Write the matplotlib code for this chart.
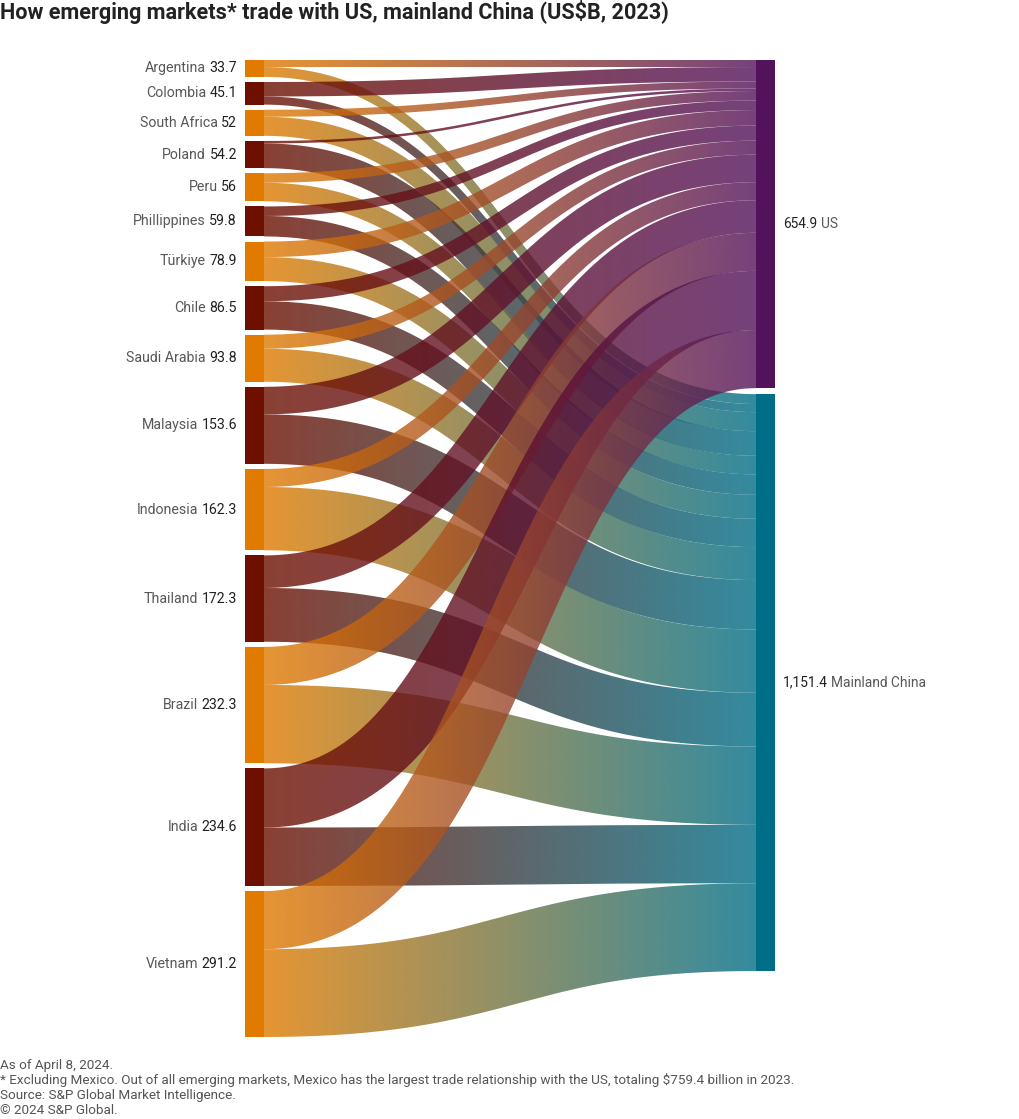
import numpy as np
import matplotlib.pyplot as plt
from matplotlib.path import Path
from matplotlib.patches import PathPatch, Rectangle
from matplotlib.colors import to_rgb

# data (US$B, 2023)
countries = ["Argentina", "Colombia", "South Africa", "Poland", "Peru", "Phillippines",
             "Türkiye", "Chile", "Saudi Arabia", "Malaysia", "Indonesia", "Thailand",
             "Brazil", "India", "Vietnam"]
totals = [33.7, 45.1, 52, 54.2, 56, 59.8, 78.9, 86.5, 93.8, 153.6, 162.3, 172.3, 232.3, 234.6, 291.2]
to_us = [14, 28.9, 14, 5, 19, 19, 31, 30, 28, 55, 36, 65, 76, 118, 116]
to_china = [19.7, 16.2, 38, 49.2, 37, 40.8, 47.9, 56.5, 65.8, 98.6, 126.3, 107.3, 156.3, 116.6, 175.2]
targets = ["US", "Mainland China"]
target_totals = ["654.9", "1,151.4"]

orange = "#E07B00"
darkred = "#6D1000"
us_col = "#53135A"
cn_col = "#006E87"
name_col = "#585858"
num_col = "#222222"
FONT = "Roboto"

fig = plt.figure(figsize=(10.2, 11.19), dpi=100)
ax = fig.add_axes([0, 0, 1, 1])
ax.set_xlim(0, 1020)
ax.set_ylim(1119, 0)
ax.axis("off")

# layout in pixel units
top, bottom, pad = 60, 1037, 5.14
lx0, lx1 = 245, 264
rx0, rx1 = 756, 775
n = len(countries)
ky = (bottom - top - pad * (n - 1)) / sum(totals)

src_y = []
y = top
for v in totals:
    src_y.append(y)
    y += v * ky + pad

flows = [to_us, to_china]
tgt_y = [top, top + sum(to_us) * ky + 6]

def band(ys, yt, w, steps=120):
    # stroke outline of a horizontal cubic bezier (like d3 sankeyLinkHorizontal)
    xm = (lx1 + rx0) / 2
    t = np.linspace(0, 1, steps)[:, None]
    p0, p1 = np.array([lx1, ys]), np.array([xm, ys])
    p2, p3 = np.array([xm, yt]), np.array([rx0, yt])
    pts = (1 - t) ** 3 * p0 + 3 * (1 - t) ** 2 * t * p1 + 3 * (1 - t) * t ** 2 * p2 + t ** 3 * p3
    d = 3 * (1 - t) ** 2 * (p1 - p0) + 6 * (1 - t) * t * (p2 - p1) + 3 * t ** 2 * (p3 - p2)
    nrm = np.column_stack([-d[:, 1], d[:, 0]])
    nrm /= np.linalg.norm(nrm, axis=1)[:, None]
    upper = pts + nrm * w / 2
    lower = pts - nrm * w / 2
    return np.vstack([upper, lower[::-1], upper[:1]])

tgt_off = [0.0, 0.0]
src_off = [0.0] * n
for i in range(n):
    scol = np.array(to_rgb(orange if i % 2 == 0 else darkred))
    for j, tcol in enumerate([us_col, cn_col]):
        w = flows[j][i] * ky
        ys = src_y[i] + src_off[i] + w / 2
        yt = tgt_y[j] + tgt_off[j] + w / 2
        src_off[i] += w
        tgt_off[j] += w
        verts = band(ys, yt, w)
        patch = PathPatch(Path(verts), facecolor="none", edgecolor="none")
        ax.add_patch(patch)
        frac = np.linspace(0, 1, 256)[:, None]
        cols = scol * (1 - frac) + np.array(to_rgb(tcol)) * frac
        img = np.concatenate([cols, np.full((256, 1), 0.8)], axis=1)[None, :, :]
        ymin, ymax = verts[:, 1].min() - 1, verts[:, 1].max() + 1
        im = ax.imshow(img, extent=(lx1, rx0, ymax, ymin), aspect="auto",
                       interpolation="bilinear", zorder=2)
        im.set_clip_path(patch)

ax.set_xlim(0, 1020)
ax.set_ylim(1119, 0)

renderer = fig.canvas.get_renderer()
FS = 10.2

# left nodes and labels
for i, c in enumerate(countries):
    h = totals[i] * ky
    ax.add_patch(Rectangle((lx0, src_y[i]), lx1 - lx0, h,
                           color=orange if i % 2 == 0 else darkred, zorder=3, lw=0))
    yc = src_y[i] + h / 2
    t = ax.text(237, yc, f"{totals[i]:g}", ha="right", va="center", fontsize=FS,
                color=num_col, family=FONT)
    wpx = t.get_window_extent(renderer).width
    ax.text(237 - wpx - 3.5, yc, c, ha="right", va="center", fontsize=FS,
            color=name_col, family=FONT)

# right nodes and labels
for j, (name, col) in enumerate(zip(targets, [us_col, cn_col])):
    h = sum(flows[j]) * ky
    ax.add_patch(Rectangle((rx0, tgt_y[j]), rx1 - rx0, h, color=col, zorder=3, lw=0))
    yc = tgt_y[j] + h / 2
    t = ax.text(783, yc, target_totals[j], ha="left", va="center", fontsize=9.9,
                color=num_col, family=FONT)
    wpx = t.get_window_extent(renderer).width
    ax.text(783 + wpx + 3.5, yc, name, ha="left", va="center", fontsize=9.9,
            color=name_col, family=FONT)

ax.text(0, 12, "How emerging markets* trade with US, mainland China (US$B, 2023)",
        ha="left", va="center", fontsize=15.55, fontweight="bold", color="#222222", family=FONT)

notes = ["As of April 8, 2024.",
         "* Excluding Mexico. Out of all emerging markets, Mexico has the largest trade relationship with the US, totaling $759.4 billion in 2023.",
         "Source: S&P Global Market Intelligence.",
         "\u00a9 2024 S&P Global."]
for k, line in enumerate(notes):
    ax.text(0, 1065 + k * 15.3, line, ha="left", va="center", fontsize=9.7,
            color="#555555", family=FONT)

fig.savefig("out.png", dpi=100)
